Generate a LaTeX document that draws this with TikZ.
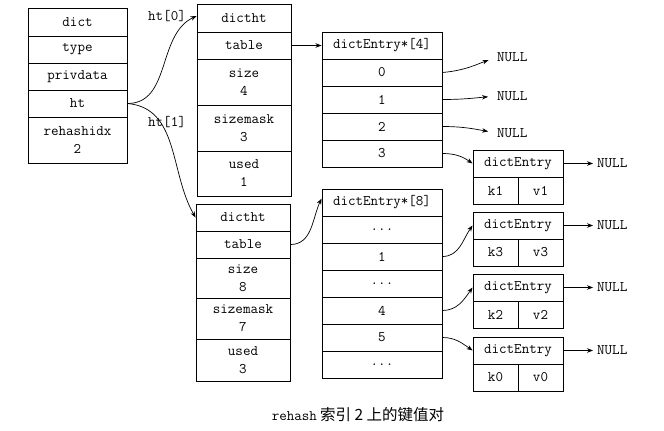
\documentclass[tikz,border=0pt]{standalone}
\usepackage{fontspec}
\newfontfamily\cjk{Noto Sans CJK SC}
\usetikzlibrary{arrows.meta}
\begin{document}
\begin{tikzpicture}[x=1pt,y=-1pt,
  cell/.style={draw, line width=0.9pt, inner sep=0pt, align=center,
    font=\ttfamily\fontsize{14.6}{18}\selectfont},
  lbl/.style={inner sep=0pt, font=\ttfamily\fontsize{14.6}{15}\selectfont},
  nul/.style={inner sep=0pt, anchor=west, font=\ttfamily\fontsize{14.6}{15}\selectfont},
  link/.style={-{Stealth[length=6pt,width=4.5pt]}, line width=0.7pt},
]
\useasboundingbox (0,0) rectangle (664,431);
\newcommand{\cellbox}[6]{\node[cell, minimum width={#3-#2}, minimum height={#5-#4}] (#1) at ({(#2+#3)/2},{(#4+#5)/2}) {#6};}
% dict
\cellbox{d1}{28}{127}{8}{36}{dict}
\cellbox{d2}{28}{127}{36}{63}{type}
\cellbox{d3}{28}{127}{63}{90}{privdata}
\cellbox{d4}{28}{127}{90}{117}{ht}
\cellbox{d5}{28}{127}{117}{163}{rehashidx\\2}
% dictht 0
\cellbox{a1}{197}{291}{4}{32}{dictht}
\cellbox{a2}{197}{291}{32}{59}{table}
\cellbox{a3}{197}{291}{59}{105}{size\\4}
\cellbox{a4}{197}{291}{105}{151}{sizemask\\3}
\cellbox{a5}{197}{291}{151}{196}{used\\1}
% dictht 1
\cellbox{b1}{196}{290}{204}{231}{dictht}
\cellbox{b2}{196}{290}{231}{258}{table}
\cellbox{b3}{196}{290}{258}{298}{size\\8}
\cellbox{b4}{196}{290}{298}{339}{sizemask\\7}
\cellbox{b5}{196}{290}{339}{381}{used\\3}
% table 4
\cellbox{t0}{322}{442}{32}{59}{dictEntry*[4]}
\cellbox{t1}{322}{442}{59}{86}{0}
\cellbox{t2}{322}{442}{86}{113}{1}
\cellbox{t3}{322}{442}{113}{140}{2}
\cellbox{t4}{322}{442}{140}{167}{3}
% table 8
\cellbox{u0}{322}{442}{189}{216}{dictEntry*[8]}
\cellbox{u1}{322}{442}{216}{243}{...}
\cellbox{u2}{322}{442}{243}{270}{1}
\cellbox{u3}{322}{442}{270}{297}{...}
\cellbox{u4}{322}{442}{297}{324}{4}
\cellbox{u5}{322}{442}{324}{351}{5}
\cellbox{u6}{322}{442}{351}{378}{...}
% dict entries
\cellbox{e1}{473}{563}{150}{177}{dictEntry}
\cellbox{e1k}{473}{518}{177}{204}{k1}
\cellbox{e1v}{518}{563}{177}{204}{v1}
\cellbox{e3}{473}{563}{212}{239}{dictEntry}
\cellbox{e3k}{473}{518}{239}{266}{k3}
\cellbox{e3v}{518}{563}{239}{266}{v3}
\cellbox{e2}{473}{563}{274}{301}{dictEntry}
\cellbox{e2k}{473}{518}{301}{328}{k2}
\cellbox{e2v}{518}{563}{301}{328}{v2}
\cellbox{e0}{473}{563}{337}{364}{dictEntry}
\cellbox{e0k}{473}{518}{364}{391}{k0}
\cellbox{e0v}{518}{563}{364}{391}{v0}
% labels
\node[lbl] (l0) at (167,16) {ht[0]};
\node[lbl] (l1) at (167,122) {ht[1]};
% NULL nodes
\node[nul] (n1) at (497,57) {NULL};
\node[nul] (n2) at (497,96) {NULL};
\node[nul] (n3) at (497,133) {NULL};
\node[nul] (n4) at (597,163.5) {NULL};
\node[nul] (n5) at (597,225.5) {NULL};
\node[nul] (n6) at (597,287.5) {NULL};
\node[nul] (n7) at (597,350.5) {NULL};
% connectors
\draw[link] (d4.east) to[out=0,in=205] ([yshift=2pt]a1.west);
\draw[link] (d4.east) to[out=-5,in=120] (b1.west);
\draw[link] (a2.east) -- (t0.west);
\draw[link] (b2.east) to[out=0,in=245] ([yshift=4pt]u0.west);
\draw[link, shorten >=9pt] (t1.east) to[out=5,in=200] (n1.west);
\draw[link, shorten >=9pt] (t2.east) to[out=0,in=185] (n2.west);
\draw[link, shorten >=9pt] (t3.east) to[out=0,in=170] (n3.west);
\draw[link] (t4.east) to[out=0,in=145] (e1.west);
\draw[link] (u2.east) to[out=0,in=235] (e3.west);
\draw[link] (u4.east) to[out=0,in=235] (e2.west);
\draw[link] (u5.east) to[out=0,in=145] (e0.west);
\draw[link, shorten >=4pt] (e1.east) -- (n4.west);
\draw[link, shorten >=4pt] (e3.east) -- (n5.west);
\draw[link, shorten >=4pt] (e2.east) -- (n6.west);
\draw[link, shorten >=4pt] (e0.east) -- (n7.west);
% caption
\node[inner sep=0pt] (cap) at (358,415) {{\ttfamily\fontsize{14.6}{15}\selectfont rehash} {\cjk\fontsize{15.5}{16}\selectfont 索引 2 上的键值对}};
\end{tikzpicture}
\end{document}
